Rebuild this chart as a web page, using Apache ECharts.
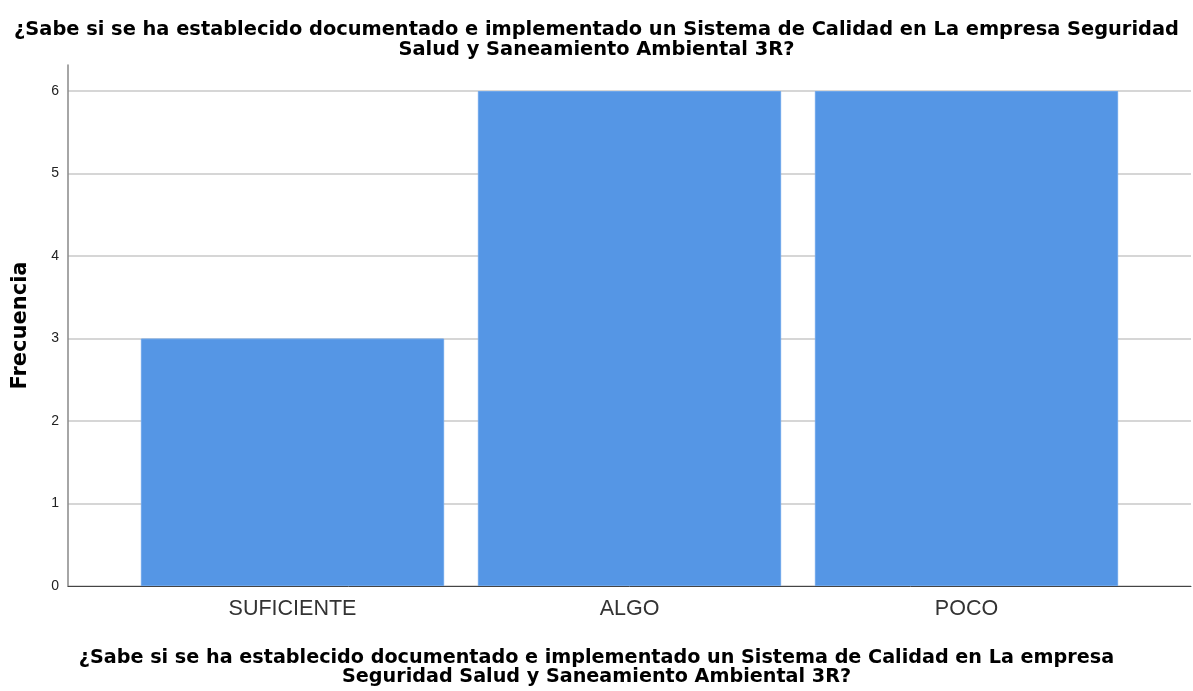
<!DOCTYPE html>
<html>
<head>
<meta charset="utf-8">
<script src="https://cdn.jsdelivr.net/npm/echarts@6/dist/echarts.min.js"></script>
<style>
  html, body { margin: 0; padding: 0; background: #fff; }
  #chart { width: 1193px; height: 691px; }
</style>
</head>
<body>
<div id="chart"></div>
<script>
var categories = ['SUFICIENTE', 'ALGO', 'POCO'];
var frecuencia = [3, 6, 6];
var yTicks = [0, 1, 2, 3, 4, 5, 6];

var titulo = '¿Sabe si se ha establecido documentado e implementado un Sistema de Calidad en La empresa Seguridad\nSalud y Saneamiento Ambiental 3R?';
var tituloX = '¿Sabe si se ha establecido documentado e implementado un Sistema de Calidad en La empresa\nSeguridad Salud y Saneamiento Ambiental 3R?';

var dom = document.getElementById('chart');
var myChart = echarts.init(dom);

var font = '"DejaVu Sans", sans-serif';
var fontLabel = '"Liberation Sans", Arial, sans-serif';

option = {
  animation: false,
  title: [
    {
      text: titulo,
      left: 'center',
      top: 15,
      textStyle: { fontFamily: font, fontSize: 19.4, fontWeight: 'bold', color: '#000', lineHeight: 20, align: 'center' }
    },
    {
      text: tituloX,
      left: 'center',
      top: 644,
      textStyle: { fontFamily: font, fontSize: 19.2, fontWeight: 'bold', color: '#000', lineHeight: 19, align: 'center' }
    }
  ],
  grid: [
    // frame: y axis line up to top
    { left: 68, right: 2, top: 65, bottom: 105, outerBoundsMode: 'none' },
    // ticks and gridlines
    { left: 68, right: 2, top: 91, bottom: 105, outerBoundsMode: 'none' },
    // bars
    { left: 124, right: 58, top: 91, bottom: 105, outerBoundsMode: 'none' }
  ],
  xAxis: [
    {
      gridIndex: 0, type: 'value', min: 0, max: 1,
      axisLine: { show: true, lineStyle: { color: '#444', width: 1 } },
      axisTick: { show: false }, axisLabel: { show: false }, splitLine: { show: false }
    },
    {
      gridIndex: 1, type: 'value', min: 0, max: 1, show: false
    },
    {
      gridIndex: 2, type: 'category', data: categories,
      axisLine: { show: false }, axisTick: { show: false },
      axisLabel: { fontFamily: fontLabel, fontSize: 21.5, color: '#333', margin: 12 }
    }
  ],
  yAxis: [
    {
      gridIndex: 0, type: 'value', min: 0, max: 1,
      name: 'Frecuencia', nameLocation: 'middle', nameGap: 37, nameRotate: 90,
      nameTextStyle: { fontFamily: font, fontSize: 21, fontWeight: 'bold', color: '#000' },
      axisLine: { show: true, lineStyle: { color: '#888', width: 1.5 } },
      axisTick: { show: false }, axisLabel: { show: false }, splitLine: { show: false }
    },
    {
      gridIndex: 1, type: 'value', min: yTicks[0], max: yTicks[yTicks.length - 1], interval: 1,
      axisLine: { show: false }, axisTick: { show: false },
      axisLabel: { fontFamily: fontLabel, fontSize: 14, color: '#222', margin: 9 },
      splitLine: { show: true, lineStyle: { color: '#c8c8c8', width: 1.5 } }
    },
    {
      gridIndex: 2, type: 'value', min: yTicks[0], max: yTicks[yTicks.length - 1], show: false
    }
  ],
  series: [
    {
      type: 'bar',
      xAxisIndex: 2,
      yAxisIndex: 2,
      data: frecuencia,
      barWidth: '90%',
      itemStyle: { color: '#5596e5', borderColor: '#6ea6ea', borderWidth: 1 }
    }
  ]
};

if (option && typeof option === "object") {
  myChart.setOption(option, true);
}
</script>
</body>
</html>
